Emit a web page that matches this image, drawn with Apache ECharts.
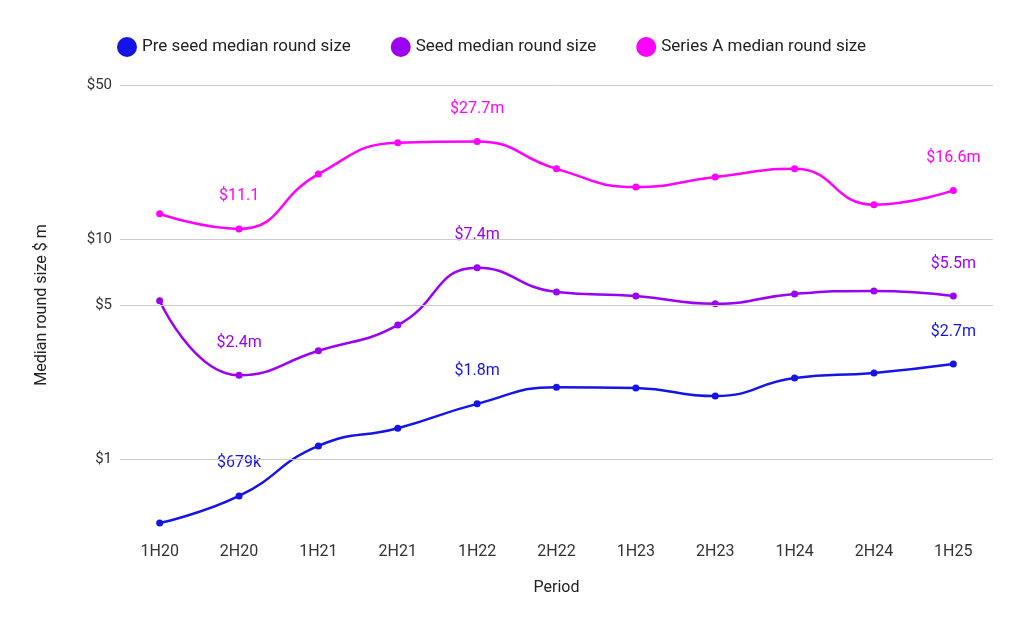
<!DOCTYPE html>
<html><head><meta charset="utf-8">
<script src="https://cdn.jsdelivr.net/npm/echarts@6/dist/echarts.min.js"></script>
<style>html,body{margin:0;padding:0;background:#fff}#c{width:1024px;height:636px}</style>
</head><body><div id="c"></div>
<script>
const categories=['1H20','2H20','1H21','2H21','1H22','2H22','1H23','2H23','1H24','2H24','1H25'];
const preSeed=[0.512,0.679,1.146,1.38,1.78,2.12,2.10,1.93,2.33,2.46,2.7];
const seed=[5.23,2.4,3.10,4.06,7.4,5.74,5.5,5.07,5.62,5.8,5.5];
const seriesA=[13.0,11.1,19.7,27.3,27.7,20.8,17.2,19.1,20.8,14.3,16.6];
const preSeedLabels={1:'$679k',4:'$1.8m',10:'$2.7m'};
const seedLabels={1:'$2.4m',4:'$7.4m',10:'$5.5m'};
const seriesALabels={1:'$11.1',4:'$27.7m',10:'$16.6m'};
const yTicks=[1,5,10,50];
const yTickLabels=['$1','$5','$10','$50'];
const L=v=>Math.log10(v);
function mk(name,vals,labels,color){
  return {name,type:'line',smooth:0.5,data:vals.map((v,i)=>({value:L(v),label:{show:labels[i]!==undefined,formatter:labels[i]||''}})),
    symbol:'circle',symbolSize:7,showSymbol:true,
    lineStyle:{width:2.5,color},itemStyle:{color},
    label:{position:'top',distance:21,color,fontSize:16,fontFamily:'Roboto'}};
}
const s=[mk('Pre seed median round size',preSeed,preSeedLabels,'#1414e6'),
 mk('Seed median round size',seed,seedLabels,'#9c00f2'),
 mk('Series A median round size',seriesA,seriesALabels,'#ff00ff')];
s[0].markLine={silent:true,symbol:'none',animation:false,
  lineStyle:{color:'#cccccc',type:'solid',width:1},
  label:{position:'start',color:'#333',fontSize:15,fontFamily:'Roboto',distance:8},
  data:yTicks.map((t,i)=>({yAxis:L(t),label:{formatter:yTickLabels[i]}}))};
const chart=echarts.init(document.getElementById('c'));
chart.setOption({
  animation:false,
  textStyle:{fontFamily:'Roboto'},
  legend:{top:32,left:112,itemGap:40,icon:'circle',itemWidth:20,itemHeight:20,
    textStyle:{fontSize:17,color:'#222'}},
  grid:{left:120,right:31,top:80,bottom:106},
  xAxis:{type:'category',data:categories,boundaryGap:true,name:'Period',nameLocation:'middle',nameGap:50,
    nameTextStyle:{fontSize:16,color:'#222'},
    axisLine:{show:false},axisTick:{show:false},axisLabel:{fontSize:16,color:'#333',margin:14}},
  yAxis:{type:'value',min:-0.3227,max:L(50)+5/220,name:'Median round size $ m',nameLocation:'middle',nameGap:70,
    nameTextStyle:{fontSize:16,color:'#222'},
    axisLabel:{show:false},splitLine:{show:false},axisLine:{show:false},axisTick:{show:false}},
  series:s
});
</script></body></html>
